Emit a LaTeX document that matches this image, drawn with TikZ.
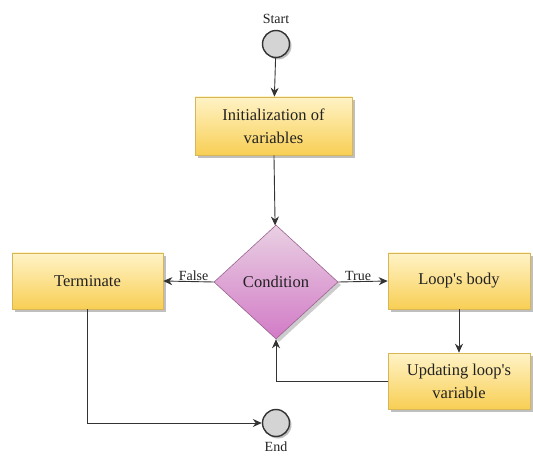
\documentclass[tikz,border=0pt]{standalone}
\usepackage{fontspec}
\setmainfont{Liberation Serif}
\usetikzlibrary{shapes.geometric,arrows.meta,shadows}

\definecolor{boxtop}{HTML}{FFF3C6}
\definecolor{boxbot}{HTML}{F8CF55}
\definecolor{boxline}{HTML}{D6B656}
\definecolor{dtop}{HTML}{E9D0E3}
\definecolor{dbot}{HTML}{D27BC6}
\definecolor{dline}{HTML}{9B6590}
\definecolor{termfill}{HTML}{D4D4D4}
\definecolor{ink}{HTML}{222222}
\definecolor{wire}{HTML}{333333}

\tikzset{
  boxsty/.style={rectangle, draw=boxline, line width=0.6pt,
    top color=boxtop, bottom color=boxbot, align=center, text=ink,
    font=\fontsize{16.5}{23}\selectfont, inner sep=2pt,
    drop shadow={shadow xshift=3pt, shadow yshift=-3pt, fill=black, opacity=0.25}},
  decision/.style={diamond, draw=dline, line width=0.6pt,
    top color=dtop, bottom color=dbot, text=ink, inner sep=0pt,
    font=\fontsize{16.5}{23}\selectfont,
    minimum width=124pt, minimum height=114pt,
    drop shadow={shadow xshift=3pt, shadow yshift=-3pt, fill=black, opacity=0.2}},
  terminal/.style={circle, draw=wire, line width=1.4pt, fill=termfill,
    minimum size=27pt, inner sep=0pt,
    drop shadow={shadow xshift=2pt, shadow yshift=-2pt, fill=black, opacity=0.25}},
  lbl/.style={text=ink, font=\fontsize{14}{16}\selectfont, inner sep=1pt},
  flow/.style={draw=wire, line width=0.9pt, -{Stealth[length=9pt,width=8pt]}},
}

\begin{document}
\begin{tikzpicture}[x=1pt, y=-1pt]
  \useasboundingbox (0,0) rectangle (533,457);

  % steps of the loop
  \node[terminal] (start) at (276,44) {};
  \node[lbl, above=5pt] (startlbl) at (start.north) {Start};
  \node[boxsty, minimum width=157pt, minimum height=58pt] (init) at (273.5,126)
    {Initialization of\\variables};
  \node[decision] (cond) at (276,282) {Condition};
  \node[boxsty, minimum width=151pt, minimum height=56pt] (term) at (87.5,281) {Terminate};
  \node[boxsty, minimum width=142pt, minimum height=56pt] (body) at (459,281)
    {Loop\textquotesingle s body};
  \node[boxsty, minimum width=142pt, minimum height=56pt] (upd) at (459,381)
    {Updating loop\textquotesingle s\\variable};
  \node[terminal] (end) at (276,423) {};
  \node[lbl, below=3pt] (endlbl) at (end.south) {End};

  % connectors
  \draw[flow] (start) -- (init);
  \draw[flow] (init) -- (cond);
  \draw[flow] (cond.west) -- node[lbl, above, pos=0.4] {False} (term.east);
  \draw[flow] (cond.east) -- node[lbl, above, pos=0.4] {True} (body.west);
  \draw[flow] (body) -- (upd);
  \draw[flow] (upd.west) -| (cond.south);
  \draw[flow] (term.south) |- (end.west);
\end{tikzpicture}
\end{document}
